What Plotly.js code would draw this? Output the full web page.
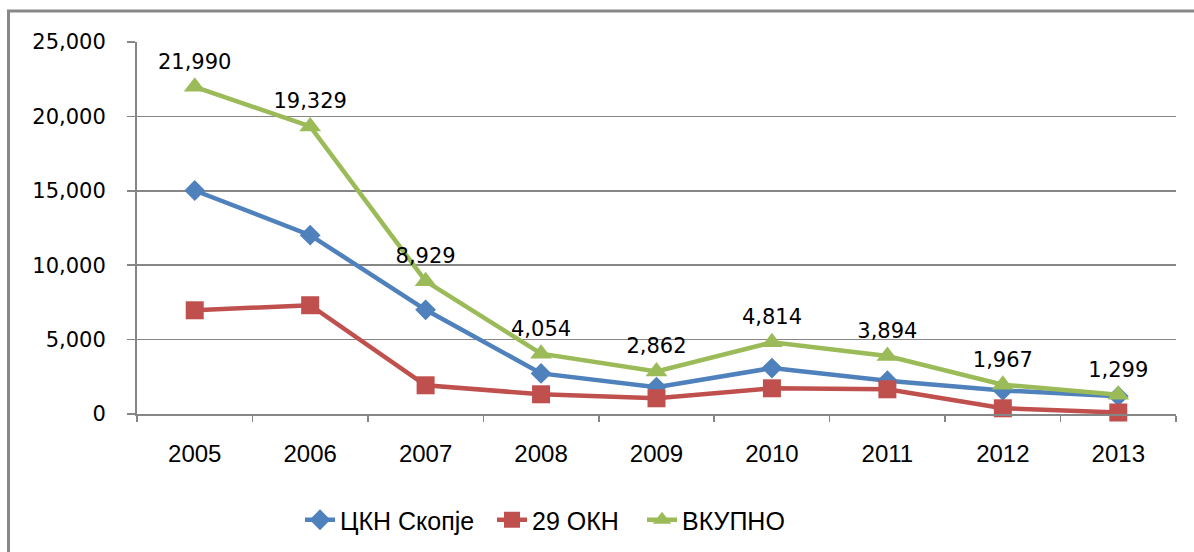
<!DOCTYPE html>
<html>
<head>
<meta charset="utf-8">
<script src="https://cdn.plot.ly/plotly-3.0.1.min.js"></script>
<style>html,body{margin:0;padding:0;background:#fff;}</style>
</head>
<body>
<div id="chart" style="width:1194px;height:552px;"></div>
<script>
const years = ['2005','2006','2007','2008','2009','2010','2011','2012','2013'];
const ckn = [15020, 12020, 7000, 2730, 1807, 3087, 2234, 1584, 1199];
const okn = [6970, 7309, 1929, 1324, 1055, 1727, 1660, 383, 100];
const vkupno = [21990, 19329, 8929, 4054, 2862, 4814, 3894, 1967, 1299];
const vkupnoLabels = ['21,990','19,329','8,929','4,054','2,862','4,814','3,894','1,967','1,299'];
const seriesNames = ['ЦКН Скопје', '29 ОКН', 'ВКУПНО'];

const numFont = {family: 'DejaVu Sans', size: 21, color: '#000'};
const traces = [
  {x: years, y: ckn, name: seriesNames[0], legend: 'legend', type: 'scatter', mode: 'lines+markers',
   line: {color: '#4F81BD', width: 4.5}, marker: {symbol: 'diamond', size: 16, color: '#4F81BD'}, cliponaxis: false},
  {x: years, y: okn, name: seriesNames[1], legend: 'legend2', type: 'scatter', mode: 'lines+markers',
   line: {color: '#C0504D', width: 4.5}, marker: {symbol: 'square', size: 18, color: '#C0504D'}, cliponaxis: false},
  {x: years, y: vkupno, name: seriesNames[2], legend: 'legend3', type: 'scatter', mode: 'lines+markers+text',
   text: vkupnoLabels, textposition: 'top center', textfont: numFont,
   line: {color: '#9BBB59', width: 4.5}, marker: {symbol: 'triangle-up', size: 19, color: '#9BBB59'}, cliponaxis: false}
];

const L = 137, R = 1176, T = 42, B = 414;
const pw = R - L, ph = B - T;
const legFont = {family: 'Liberation Sans, Arial', size: 25, color: '#000'};
function leg(px) {
  return {orientation: 'h', x: (px - L) / pw, y: (B - 520) / ph, xanchor: 'left', yanchor: 'middle',
          font: legFont, bgcolor: 'rgba(0,0,0,0)'};
}
const layout = {
  width: 1194, height: 552,
  margin: {l: L, r: 1194 - R, t: T, b: 552 - B, pad: 0, autoexpand: false},
  paper_bgcolor: '#fff', plot_bgcolor: '#fff',
  showlegend: true,
  legend: leg(300), legend2: leg(492), legend3: leg(642),
  xaxis: {type: 'category', range: [-0.5, 8.5], showline: true, linecolor: '#868686', linewidth: 2, automargin: false,
          ticks: 'outside', tickson: 'boundaries', ticklen: 6, tickcolor: '#868686', tickwidth: 1.5,
          showgrid: false, tickfont: {family: 'Liberation Sans, Arial', size: 24, color: '#000'},
          ticklabelstandoff: 17, fixedrange: true},
  yaxis: {range: [0, 25000], dtick: 5000, tickformat: ',d', showline: true, linecolor: '#868686', linewidth: 2,
          automargin: false,
          ticks: 'outside', ticklen: 8, tickcolor: '#868686', tickwidth: 1.5,
          showgrid: true, gridcolor: '#868686', gridwidth: 1.5, zeroline: false,
          tickfont: numFont, ticklabelstandoff: 17, fixedrange: true},
  shapes: [{type: 'rect', xref: 'paper', yref: 'paper', layer: 'above',
            x0: (8.5 - L) / pw, x1: (1205 - L) / pw, y0: (B - 570) / ph, y1: (B - 11) / ph,
            line: {color: '#878787', width: 3}, fillcolor: 'rgba(0,0,0,0)'}]
};
Plotly.newPlot('chart', traces, layout, {displayModeBar: false, staticPlot: true});
</script>
</body>
</html>
